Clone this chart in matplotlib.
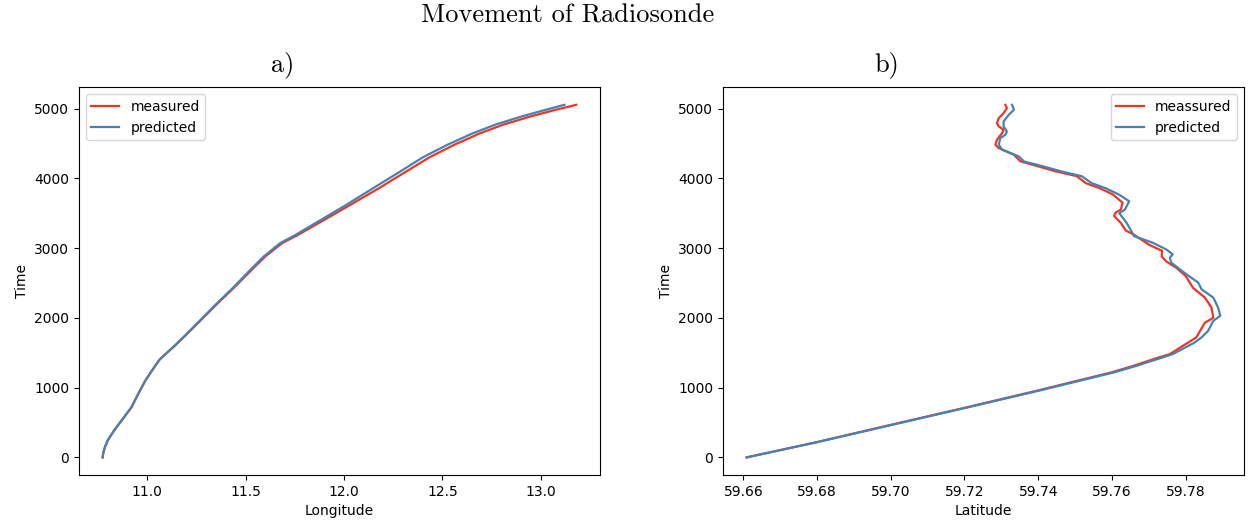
import matplotlib
matplotlib.use("Agg")
import matplotlib.pyplot as plt

# a) longitude vs time
time_a = [0, 60, 150, 250, 400, 550, 720, 900, 1100, 1250, 1400, 1500, 1600, 1750, 1960, 2200,
          2430, 2700, 2880, 3070, 3180, 3300, 3600, 3862, 4070, 4300, 4480, 4640, 4770, 4880, 4970, 5053]
lon_meas = [10.773, 10.776, 10.785, 10.80, 10.835, 10.875, 10.92, 10.952, 10.99, 11.025, 11.062,
            11.10, 11.14, 11.195, 11.27, 11.355, 11.44, 11.535, 11.60, 11.685, 11.76, 11.835, 12.02,
            12.18, 12.30, 12.434, 12.56, 12.687, 12.81, 12.94, 13.06, 13.18]
lon_pred = [10.773, 10.776, 10.785, 10.80, 10.835, 10.875, 10.92, 10.952, 10.99, 11.025, 11.062,
            11.10, 11.139, 11.193, 11.267, 11.351, 11.435, 11.528, 11.592, 11.675, 11.748, 11.82,
            12.00, 12.15, 12.27, 12.40, 12.525, 12.65, 12.77, 12.895, 13.01, 13.12]

# b) latitude vs time
time_meas_b = [0, 220, 460, 710, 960, 1220, 1310, 1420, 1480, 1720, 1930, 2000, 2150, 2290, 2430,
               2600, 2720, 2810, 2880, 2960, 3050, 3200, 3250, 3360, 3460, 3510, 3550, 3650, 3770,
               3860, 3930, 4030, 4100, 4195, 4243, 4290, 4338, 4433, 4481, 4552, 4648, 4695, 4743,
               4790, 4862, 4933, 5005, 5053]
lat_meas = [59.6609, 59.6800, 59.6995, 59.7200, 59.7400, 59.7600, 59.7657, 59.7720, 59.7757, 59.7829,
            59.7852, 59.7875, 59.7870, 59.7852, 59.7820, 59.7800, 59.7774, 59.7747, 59.7735, 59.7736,
            59.7700, 59.7657, 59.7638, 59.7624, 59.7606, 59.7610, 59.7624, 59.7629, 59.7602,
            59.7566, 59.7529, 59.7505, 59.7447, 59.7384, 59.7352, 59.7343, 59.7334, 59.7293, 59.7284,
            59.7288, 59.7302, 59.7306, 59.7293, 59.7288, 59.7293, 59.7306, 59.7315, 59.7311]
time_pred_b = [0, 220, 460, 710, 960, 1220, 1310, 1420, 1480, 1648, 1719, 1814, 1957, 2029, 2148,
               2290, 2410, 2505, 2624, 2790, 2862, 2910, 2981, 3076, 3171, 3250, 3360, 3500, 3550,
               3671, 3770, 3860, 3930, 4030, 4100, 4190, 4240, 4314, 4410, 4481, 4576, 4624, 4671,
               4743, 4814, 4910, 4981, 5053]
lat_pred = [59.6609, 59.6802, 59.6998, 59.7203, 59.7405, 59.7607, 59.7665, 59.7730, 59.7765, 59.7825,
            59.7843, 59.7861, 59.7875, 59.7894, 59.7888, 59.7875, 59.7843, 59.7834, 59.7802, 59.7761,
            59.7757, 59.7765, 59.7747, 59.7711, 59.7660, 59.7652, 59.7640, 59.7620, 59.7635,
            59.7647, 59.7618, 59.7582, 59.7545, 59.7518, 59.7462, 59.7400, 59.7362, 59.7347,
            59.7302, 59.7293, 59.7297, 59.7311, 59.7315, 59.7306, 59.7306, 59.7320, 59.7334, 59.7329]

red = '#ee3524'
blue = '#4682b4'

fig = plt.figure(figsize=(12.53, 5.22), dpi=100)
ax1 = fig.add_axes([0.063, 0.090, 0.4158, 0.743])
ax2 = fig.add_axes([0.577, 0.090, 0.4158, 0.743])

ax1.plot(lon_meas, time_a, color=red, lw=1.6, label='measured')
ax1.plot(lon_pred, time_a, color=blue, lw=1.6, label='predicted')
ax1.set_xlabel('Longitude')
ax1.set_ylabel('Time')
ax1.set_xticks([11.0, 11.5, 12.0, 12.5, 13.0])
ax1.legend(loc='upper left')

ax2.plot(lat_meas, time_meas_b, color=red, lw=1.6, label='meassured')
ax2.plot(lat_pred, time_pred_b, color=blue, lw=1.6, label='predicted')
ax2.set_xlabel('Latitude')
ax2.set_ylabel('Time')
ax2.set_xticks([59.66, 59.68, 59.70, 59.72, 59.74, 59.76, 59.78])
ax2.legend(loc='upper right')

serif = ['cmr10', 'DejaVu Serif']
fig.text(568 / 1253, 1 - 16 / 522, 'Movement of Radiosonde', ha='center', va='center',
         fontsize=19, family=serif)
fig.text(283 / 1253, 1 - 65 / 522, 'a)', ha='center', va='center', fontsize=19, family=serif)
fig.text(887 / 1253, 1 - 65 / 522, 'b)', ha='center', va='center', fontsize=19, family=serif)

fig.savefig('out.png', dpi=100)
